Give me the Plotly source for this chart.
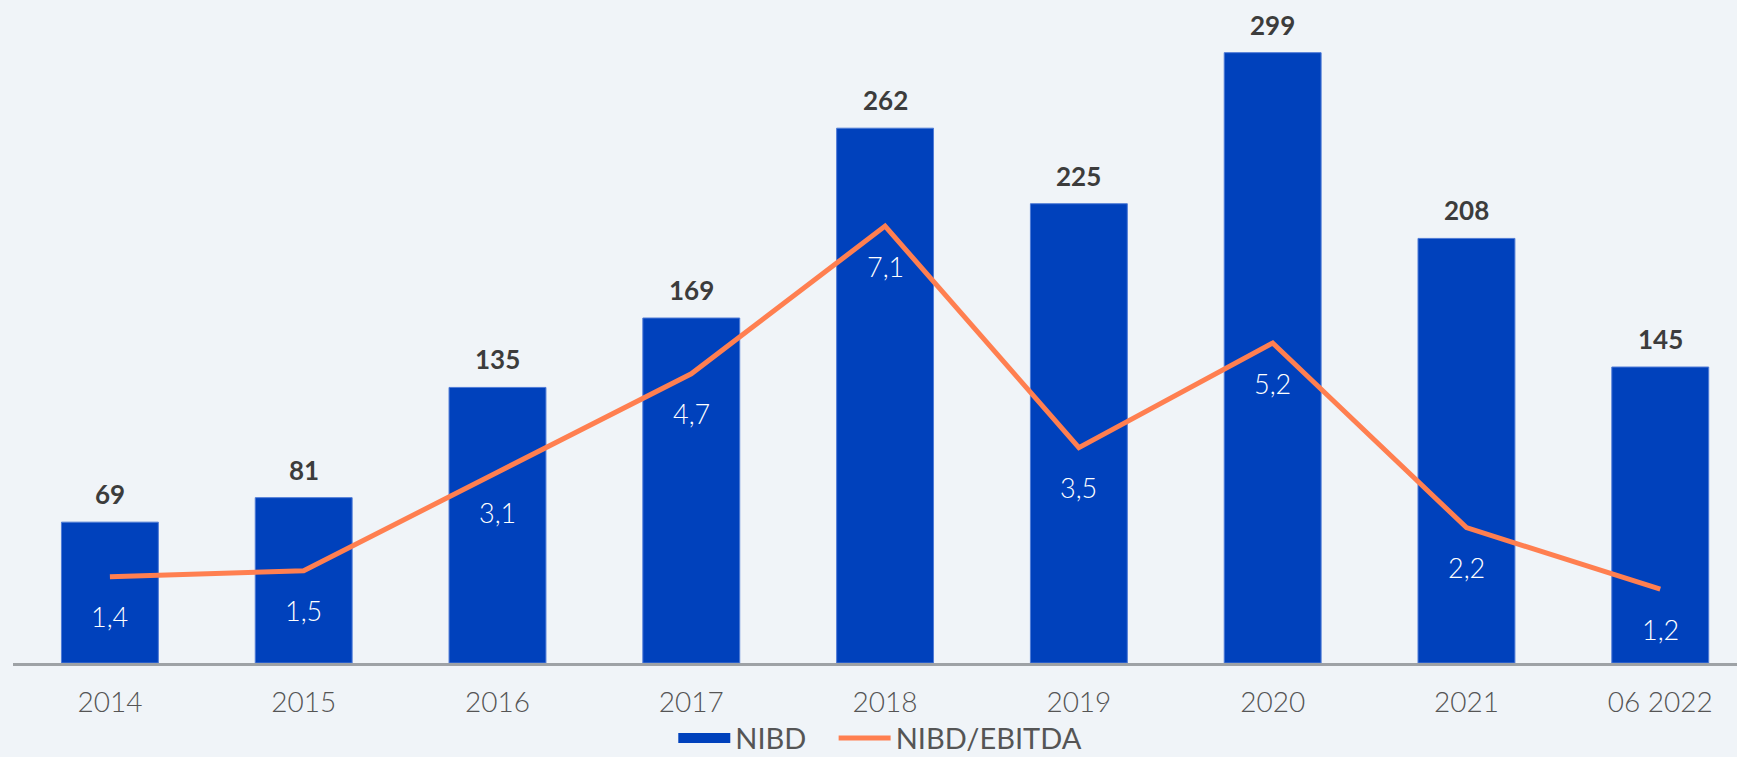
import plotly.graph_objects as go

categories = ["2014", "2015", "2016", "2017", "2018", "2019", "2020", "2021", "06 2022"]
nibd = [69, 81, 135, 169, 262, 225, 299, 208, 145]
ratio = [1.4, 1.5, 3.1, 4.7, 7.1, 3.5, 5.2, 2.2, 1.2]
ratio_labels = ["1,4", "1,5", "3,1", "4,7", "7,1", "3,5", "5,2", "2,2", "1,2"]

BG = "#F0F4F8"
BAR = "#0041BC"
LINE = "#FF7F50"
FONT = "Lato"
PAD = "\u00a0" * 3

fig = go.Figure()
fig.add_trace(go.Bar(
    x=categories, y=nibd, name="NIBD", showlegend=False,
    marker=dict(color=BAR, line=dict(color="#4f7bd6", width=1)),
    width=0.5, hoverinfo="skip",
))
# legend-only entry to get a wide rectangular swatch for NIBD
fig.add_trace(go.Scatter(
    x=[None], y=[None], name="NIBD" + PAD, mode="lines",
    line=dict(color=BAR, width=17), hoverinfo="skip",
))
fig.add_trace(go.Scatter(
    x=categories, y=ratio, name="NIBD/EBITDA", yaxis="y2",
    mode="lines", line=dict(color=LINE, width=5), hoverinfo="skip",
))

annotations = []
for i, v in enumerate(nibd):
    annotations.append(dict(
        x=i, y=v, xref="x", yref="y", text=f"<b>{v}</b>", showarrow=False,
        yshift=28, font=dict(family=FONT, size=26, color="#3c3c3c"),
    ))
for i, (v, t) in enumerate(zip(ratio, ratio_labels)):
    annotations.append(dict(
        x=i, y=v, xref="x", yref="y2", text=t, showarrow=False,
        yshift=-40, font=dict(family=FONT, size=27, color="#ffffff", weight=300),
    ))

fig.update_layout(
    width=1737, height=757,
    margin=dict(l=13, r=0, t=20, b=94, autoexpand=False),
    paper_bgcolor=BG, plot_bgcolor=BG,
    font=dict(family=FONT, size=27, color="#555555"),
    xaxis=dict(
        type="category", range=[-0.5, 8.396], automargin=False,
        showline=True, linecolor="#9ea2a6", linewidth=3,
        showgrid=False, zeroline=False,
        ticks="outside", ticklen=12, tickcolor="rgba(0,0,0,0)",
        tickfont=dict(family=FONT, size=28, color="#555555", weight=300),
    ),
    yaxis=dict(range=[0, 315], visible=False, showgrid=False, zeroline=False),
    yaxis2=dict(range=[0, 10.45], overlaying="y", side="right",
                visible=False, showgrid=False, zeroline=False),
    showlegend=True,
    legend=dict(
        orientation="h", x=0.383, xanchor="left", y=-0.117, yanchor="middle",
        font=dict(family=FONT, size=29, color="#555555"),
        bgcolor="rgba(0,0,0,0)", itemwidth=52, tracegroupgap=0,
    ),
    annotations=annotations,
    bargap=0.5,
)

fig.write_html(
    "out.html",
    config={"displayModeBar": False},
    post_script="document.body.style.margin='0';document.body.style.overflow='hidden';",
)
